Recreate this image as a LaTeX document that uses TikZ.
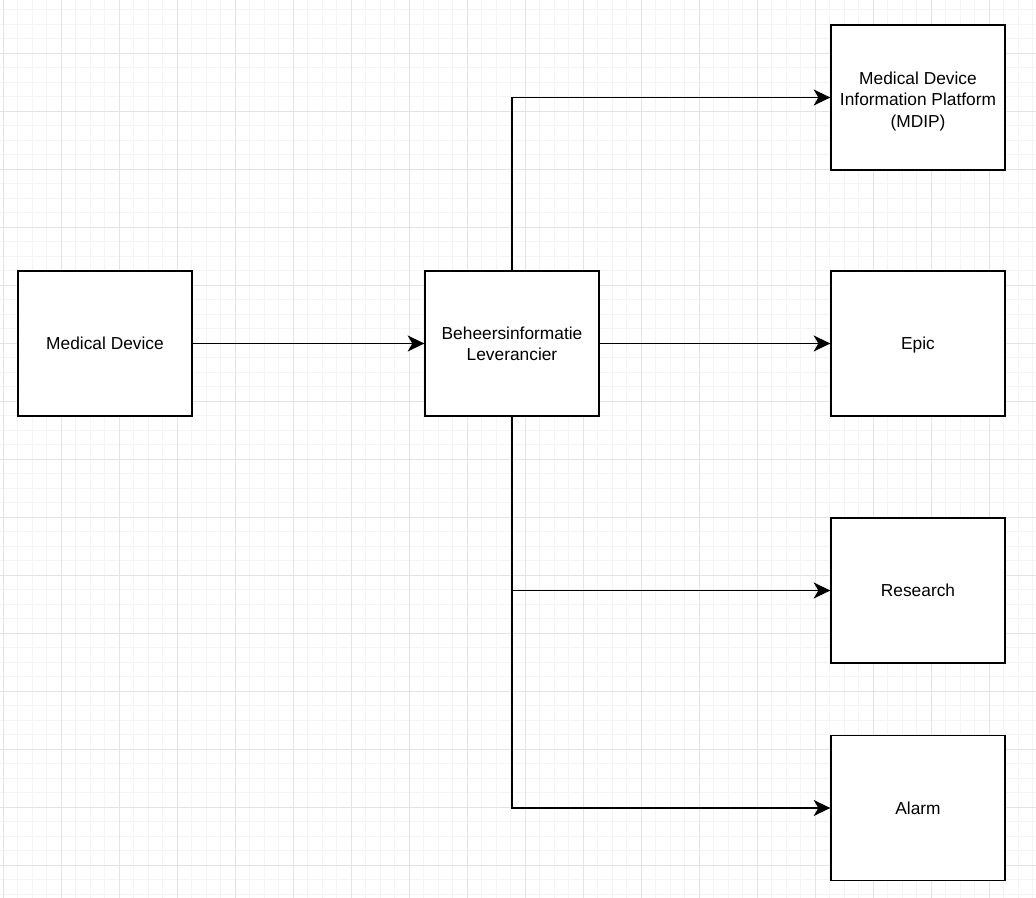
\documentclass[tikz,border=0pt]{standalone}
\usepackage{fontspec}
\setmainfont{Liberation Sans}
\usetikzlibrary{arrows.meta}
\definecolor{gminor}{RGB}{244,244,244}
\definecolor{gmajor}{RGB}{228,228,228}
\begin{document}
\begin{tikzpicture}[x=0.75pt,y=-0.75pt,
  box/.style={draw, line width=1pt, fill=white, minimum width=130.5pt, minimum height=108.75pt,
    inner sep=0pt, align=center, font=\fontsize{13}{16}\selectfont},
  conn/.style={line width=1pt, -{Stealth[length=12.5pt,width=12pt,inset=3.5pt]}},
  gridminor/.style={draw=gminor, line width=0.6pt},
  gridmajor/.style={draw=gmajor, line width=0.7pt}]
\fill[white] (0,0) rectangle (1036,898);
\useasboundingbox (0,0) rectangle (1036,898);
% grid
\foreach \k in {0,...,71} \draw[gridminor] ({3.3+14.5*\k},0) -- ({3.3+14.5*\k},898);
\foreach \k in {0,...,61} \draw[gridminor] (0,{9.5+14.5*\k}) -- (1036,{9.5+14.5*\k});
\foreach \k in {0,...,17} \draw[gridmajor] ({3.3+58*\k},0) -- ({3.3+58*\k},898);
\foreach \k in {1,...,15} \draw[gridmajor] (0,{-5+58*\k}) -- (1036,{-5+58*\k});
% nodes
\node[box] (md) at (105,343.5) {Medical Device};
\node[box] (bl) at (512,343.5) {Beheersinformatie\\Leverancier};
\node[box] (mdip) at (918,97.5) {\rule{0pt}{15pt}Medical Device\\Information Platform\\(MDIP)};
\node[box] (epic) at (918,343.5) {\raisebox{0pt}[\height][0pt]{Epic}};
\node[box] (res) at (918,590.5) {Research};
\node[box] (alarm) at (918,808) {Alarm};
% connectors
\draw[conn] (md.east) -- (bl.west);
\draw[conn] (bl.north) |- (mdip.west);
\draw[conn] (bl.east) -- (epic.west);
\draw[conn] (bl.south) |- (res.west);
\draw[conn] (bl.south) |- (alarm.west);
\end{tikzpicture}
\end{document}
